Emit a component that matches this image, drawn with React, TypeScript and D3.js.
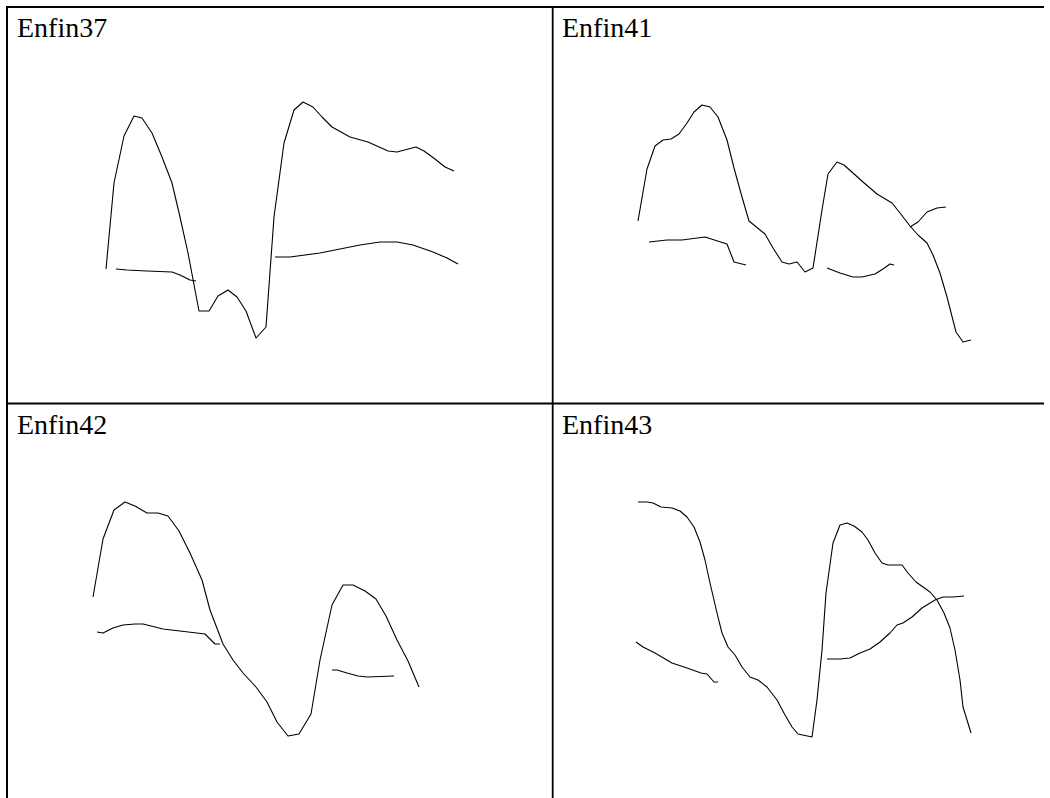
import React from "react";
import * as d3 from "d3";

type Pt = [number, number] | null;

// Panel titles
const titles: string[] = ["Enfin37", "Enfin41", "Enfin42", "Enfin43"];

// Series values: [time, amplitude] in panel units, null = gap
const enfin37Main: Pt[] = [
  [98, 138], [106, 224], [116, 271], [126, 291], [134, 289], [144, 274], [154, 250], [164, 224],
  [172, 190], [180, 154], [191, 96], [201, 96], [210, 111], [220, 117], [229, 110], [238, 96],
  [248, 69], [258, 80], [266, 190], [276, 264], [286, 297], [295, 305], [305, 300], [314, 290],
  [324, 280], [342, 270], [360, 265], [380, 256], [389, 255], [408, 260], [416, 256], [427, 248],
  [437, 240], [446, 236],
];
const enfin37Second: Pt[] = [
  [108, 138], [119, 137], [139, 136], [164, 135], [172, 132], [182, 127], [188, 126], null,
  [267, 150], [282, 150], [312, 154], [332, 158], [352, 162], [372, 165], [389, 165], [405, 162],
  [425, 155], [439, 149], [450, 143],
];

const enfin41Main: Pt[] = [
  [85, 186], [94, 238], [102, 261], [110, 267], [118, 268], [126, 273], [134, 284], [141, 295],
  [149, 302], [157, 300], [165, 290], [174, 267], [181, 239], [189, 210], [196, 186], [212, 173],
  [220, 159], [229, 145], [236, 143], [244, 145], [252, 135], [260, 139], [269, 197], [275, 233],
  [284, 245], [291, 242], [300, 234], [310, 225], [324, 213], [339, 204], [347, 194], [357, 181],
  [365, 172], [374, 164], [380, 152], [387, 134], [394, 110], [403, 75], [410, 65], [418, 67],
];
const enfin41Second: Pt[] = [
  [96, 165], [114, 167], [129, 167], [152, 170], [174, 163], [181, 145], [189, 143], [193, 142], null,
  [274, 139], [287, 134], [300, 130], [309, 130], [322, 133], [330, 138], [337, 143], [341, 142], null,
  [357, 180], [365, 185], [374, 195], [384, 199], [393, 200],
];

const enfin42Main: Pt[] = [
  [85, 207], [95, 265], [106, 294], [117, 302], [127, 298], [139, 291], [150, 291], [160, 288],
  [171, 273], [182, 251], [194, 224], [202, 194], [215, 160], [225, 144], [235, 131], [248, 117],
  [259, 102], [269, 82], [280, 68], [291, 70], [303, 90], [312, 144], [324, 199], [335, 219],
  [345, 219], [357, 213], [368, 205], [378, 188], [389, 164], [400, 143], [411, 117],
];
const enfin42Second: Pt[] = [
  [89, 172], [95, 171], [105, 176], [115, 179], [127, 180], [135, 180], [155, 175], [172, 173],
  [197, 170], [207, 160], [212, 160], null,
  [324, 134], [329, 134], [339, 131], [350, 128], [359, 127], [386, 128],
];

const enfin43Main: Pt[] = [
  [85, 302], [94, 302], [100, 301], [108, 297], [119, 296], [127, 293], [134, 287], [141, 277],
  [147, 262], [152, 244], [157, 221], [164, 191], [169, 171], [175, 157], [182, 149], [189, 137],
  [197, 127], [205, 124], [214, 117], [224, 104], [232, 89], [239, 77], [245, 70], [259, 67],
  [264, 104], [269, 154], [273, 211], [280, 261], [287, 279], [294, 281], [301, 278], [309, 272],
  [315, 264], [322, 251], [329, 241], [335, 239], [349, 239], [355, 231], [363, 222], [370, 217],
  [377, 212], [384, 204], [391, 191], [397, 176], [402, 154], [407, 124], [410, 97], [418, 71],
];
const enfin43Second: Pt[] = [
  [83, 162], [90, 157], [102, 151], [119, 141], [134, 136], [148, 131], [154, 130], [161, 122],
  [165, 122], null,
  [274, 145], [287, 145], [297, 146], [307, 151], [317, 155], [327, 162], [337, 171], [344, 179],
  [350, 181], [359, 187], [369, 196], [382, 204], [390, 207], [400, 207], [411, 208],
];

const panelSeries: Pt[][][] = [
  [enfin37Main, enfin37Second],
  [enfin41Main, enfin41Second],
  [enfin42Main, enfin42Second],
  [enfin43Main, enfin43Second],
];

const W = 1050;
const H = 798;
const left = 7;
const top = 7;
const midX = 552.7;
const midY = 403.5;
const rightEnd = 1044;
const panelW = 545;

const serifStack =
  '"Liberation Serif", Tinos, "Times New Roman", Times, "Nimbus Roman", "Nimbus Roman No9 L", FreeSerif, "Noto Serif", "DejaVu Serif", "Noto Serif CJK SC", "Noto Serif CJK JP", serif';

export default function App() {
  const origins: [number, number][] = [
    [8, 7],
    [553, 7],
    [8, 404],
    [553, 404],
  ];
  const x = d3.scaleLinear().domain([0, panelW]).range([0, panelW]);
  const y = d3.scaleLinear().domain([0, 400]).range([400, 0]);
  const line = d3
    .line<Pt>()
    .defined((d) => d !== null)
    .x((d) => x((d as [number, number])[0]))
    .y((d) => y((d as [number, number])[1]));

  return (
    <svg
      width={W}
      height={H}
      style={{ position: "absolute", left: 0, top: 0, background: "#fff" }}
    >
      <rect x={0} y={0} width={W} height={H} fill="#fff" />
      {/* table borders */}
      <line x1={left - 1} x2={rightEnd} y1={top} y2={top} stroke="#000" strokeWidth={2} />
      <line x1={left} x2={left} y1={top - 1} y2={H} stroke="#000" strokeWidth={2} />
      <line x1={midX} x2={midX} y1={top} y2={H} stroke="#000" strokeWidth={1.8} />
      <line x1={left} x2={rightEnd} y1={midY} y2={midY} stroke="#000" strokeWidth={2} />
      {origins.map((o, i) => (
        <g key={i} transform={`translate(${o[0]},${o[1]})`}>
          <text
            x={9}
            y={30}
            style={{ fontFamily: serifStack, fontSize: "28px" }}
            fill="#000"
          >
            {titles[i]}
          </text>
          {panelSeries[i].map((s, j) => (
            <path
              key={j}
              d={line(s) || ""}
              fill="none"
              stroke="#000"
              strokeWidth={1.1}
              strokeLinejoin="round"
            />
          ))}
        </g>
      ))}
    </svg>
  );
}
